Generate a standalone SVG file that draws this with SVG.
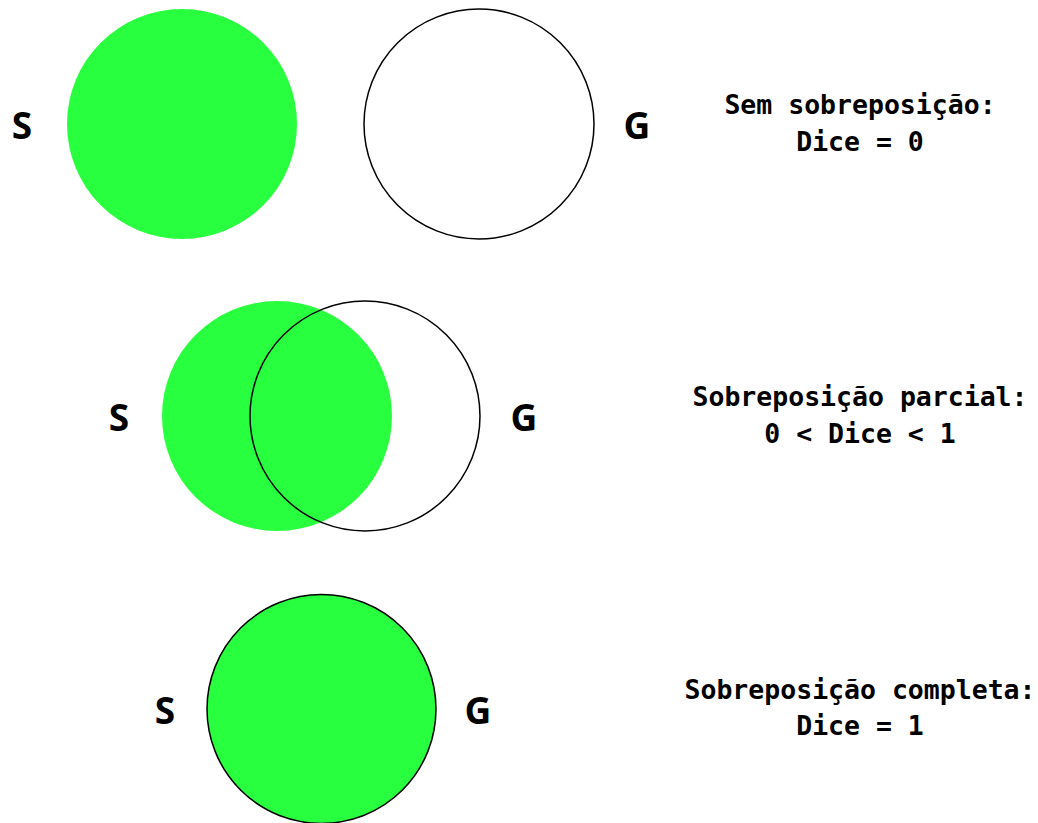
<svg xmlns="http://www.w3.org/2000/svg" width="1038" height="823" viewBox="0 0 1038 823">
<style>
.s{fill:#28ff3e;stroke:none}
.sb{fill:#28ff3e;stroke:#000;stroke-width:1.5}
.g{fill:none;stroke:#000;stroke-width:1.5}
.lbl{font-family:"Open Sans","DejaVu Sans",sans-serif;font-weight:bold;font-size:37px;text-anchor:middle;dominant-baseline:central;fill:#000}
.cap{font-family:"DejaVu Sans Mono","Liberation Mono",monospace;font-weight:bold;font-size:26.5px;text-anchor:middle;fill:#000}
</style>
<rect width="1038" height="823" fill="#fff"/>
<g id="row1">
<circle class="s" cx="182" cy="124" r="115"/>
<circle class="g" cx="479" cy="124" r="115"/>
<text class="lbl" x="22" y="124">S</text>
<text class="lbl" x="637" y="124">G</text>
<text class="cap" x="860" y="114">Sem sobreposição:</text>
<text class="cap" x="860" y="151">Dice = 0</text>
</g>
<g id="row2">
<circle class="s" cx="277" cy="416" r="115"/>
<circle class="g" cx="365" cy="416" r="115"/>
<text class="lbl" x="119" y="416">S</text>
<text class="lbl" x="524" y="416">G</text>
<text class="cap" x="860" y="406">Sobreposição parcial:</text>
<text class="cap" x="860" y="443">0 &lt; Dice &lt; 1</text>
</g>
<g id="row3">
<circle class="sb" cx="321.5" cy="709" r="114.5"/>
<text class="lbl" x="165" y="709">S</text>
<text class="lbl" x="478" y="709">G</text>
<text class="cap" x="860" y="699">Sobreposição completa:</text>
<text class="cap" x="860" y="735">Dice = 1</text>
</g>
<g id="connectors"/>
</svg>
